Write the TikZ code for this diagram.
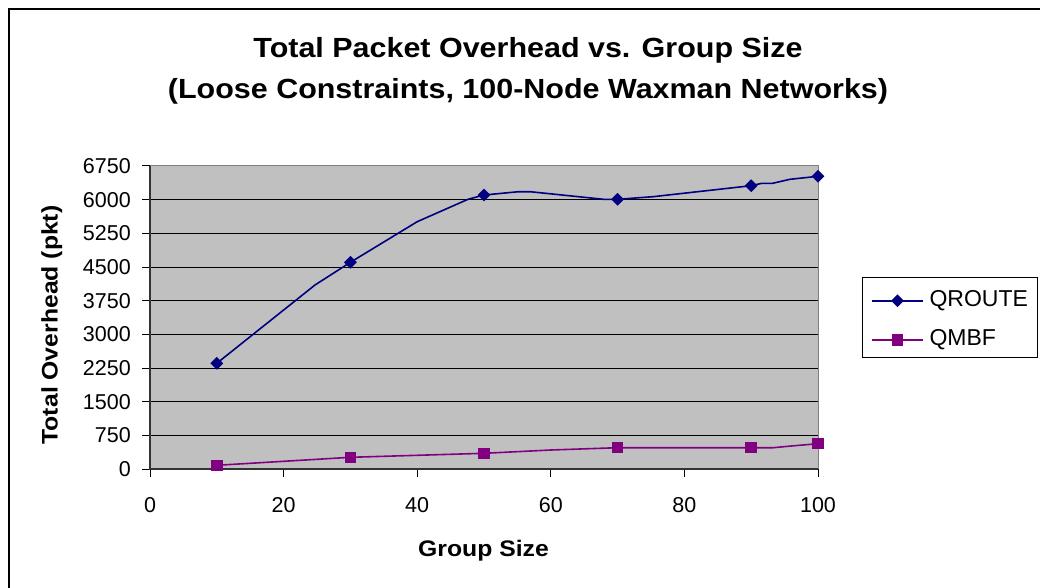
\documentclass[tikz,border=0pt]{standalone}
\usepackage{fontspec}
\setmainfont{Liberation Sans}
\newfontfamily\headfont{Liberation Sans Bold}[FakeStretch=1.1]
\usetikzlibrary{shapes.geometric}

\definecolor{plotgrey}{HTML}{C0C0C0}
\definecolor{qroute}{HTML}{000080}
\definecolor{qmbf}{HTML}{800080}

\tikzset{
  titletext/.style={inner sep=0pt, font=\headfont\fontsize{27.7}{27.7}\selectfont},
  axistitle/.style={inner sep=0pt, font=\headfont\fontsize{22.5}{22.5}\selectfont},
  ticktext/.style={inner sep=0pt, font=\fontsize{21.5}{21.5}\selectfont},
  legtext/.style={inner sep=0pt, anchor=west, font=\fontsize{23}{23}\selectfont},
  gridline/.style={black, line width=1pt},
  tickline/.style={black, line width=1pt},
  qrline/.style={qroute, line width=1.6pt, line join=round},
  qmline/.style={qmbf, line width=1.6pt, line join=round},
  qrmark/.style={diamond, fill=qroute, inner sep=0pt, minimum width=13pt, minimum height=13pt},
  qmmark/.style={rectangle, fill=qmbf, inner sep=0pt, minimum width=11.5pt, minimum height=11.5pt},
}

\begin{document}
\begin{tikzpicture}[x=1pt, y=-1pt]
\useasboundingbox (0,0) rectangle (1040,588);
\fill[white] (0,0) rectangle (1040,588);

% outer chart frame (continues past the page edges)
\draw[black, line width=2pt] (9,590) -- (9,9) -- (1042,9);

% titles
\node[titletext, anchor=base] (title1) at (528,58) {Total Packet Overhead vs. Group Size};
\node[titletext, anchor=base] (title2) at (528,99) {(Loose Constraints, 100-Node Waxman Networks)};

% plot area
\fill[plotgrey] (150,166) rectangle (818,469);
\draw[gray, line width=1pt] (150,166) -- (818,166) -- (818,469);

% horizontal gridlines, y ticks and labels: 0..6750 step 750
\foreach \v [evaluate=\v as \yy using {469-\v/6750*303}] in {0,750,...,6750} {
  \ifnum\v>0 \ifnum\v<6750 \draw[gridline] (150,\yy) -- (818,\yy); \fi\fi
  \draw[tickline] (142,\yy) -- (150,\yy);
  \node[ticktext, anchor=east] (ylab\v) at (131,\yy) {\v};
}

% x ticks and labels: 0..100 step 20
\foreach \v [evaluate=\v as \xx using {150+\v*6.68}] in {0,20,...,100} {
  \draw[tickline] (\xx,469) -- (\xx,477);
  \node[ticktext] (xlab\v) at (\xx,505.5) {\v};
}

% axes
\draw[black!80, line width=1.3pt] (150,166) -- (150,469) -- (818,469);

% axis titles
\node[axistitle, anchor=base] (xtitle) at (483.5,556.5) {Group Size};
\node[axistitle, anchor=base, rotate=90] (ytitle) at (57.5,325) {Total Overhead (pkt)};

% QROUTE series
\draw[qrline] (216.8,363.3) -- (315,285) -- (350.4,262.3) -- (417.2,221.7)
  -- (468,199.3) -- (484,195) -- (518.7,191.7) -- (530,191.7) -- (603.6,199.3)
  -- (617.6,199.3) -- (653,196.7) -- (751.2,185.7) -- (761.9,183.3)
  -- (772.6,183.3) -- (790,179.3) -- (818,176.3);
\node[qrmark] (qr10) at (216.8,363.3) {};
\node[qrmark] (qr30) at (350.4,262.3) {};
\node[qrmark] (qr50) at (484,195) {};
\node[qrmark] (qr70) at (617.6,199.3) {};
\node[qrmark] (qr90) at (751.2,185.7) {};
\node[qrmark] (qr100) at (818,176.3) {};

% QMBF series
\draw[qmline] (216.8,465.3) -- (350.4,457.3) -- (484,453.3) -- (550.8,450)
  -- (617.6,447.7) -- (751.2,447.7) -- (773.2,447.7) -- (791.3,446) -- (818,443.7);
\node[qmmark] (qm10) at (216.8,465.3) {};
\node[qmmark] (qm30) at (350.4,457.3) {};
\node[qmmark] (qm50) at (484,453.3) {};
\node[qmmark] (qm70) at (617.6,447.7) {};
\node[qmmark] (qm90) at (751.2,447.7) {};
\node[qmmark] (qm100) at (818,443.7) {};

% legend
\node[draw=black, line width=1pt, minimum width=175pt, minimum height=80pt, inner sep=0pt] (legend) at (949.8,317.3) {};
\coordinate (lq1a) at (871.7,300.7);
\coordinate (lq1b) at (923.3,300.7);
\coordinate (lq2a) at (871.7,340);
\coordinate (lq2b) at (923.3,340);
\draw[qrline] (lq1a) -- (lq1b);
\node[qrmark] (legqr) at (897.5,300.7) {};
\draw[qmline] (lq2a) -- (lq2b);
\node[qmmark] (legqm) at (897.5,340) {};
\node[legtext] (legqrt) at (929.3,300.7) {QROUTE};
\node[legtext] (legqmt) at (929.3,340) {QMBF};
\end{tikzpicture}
\end{document}
